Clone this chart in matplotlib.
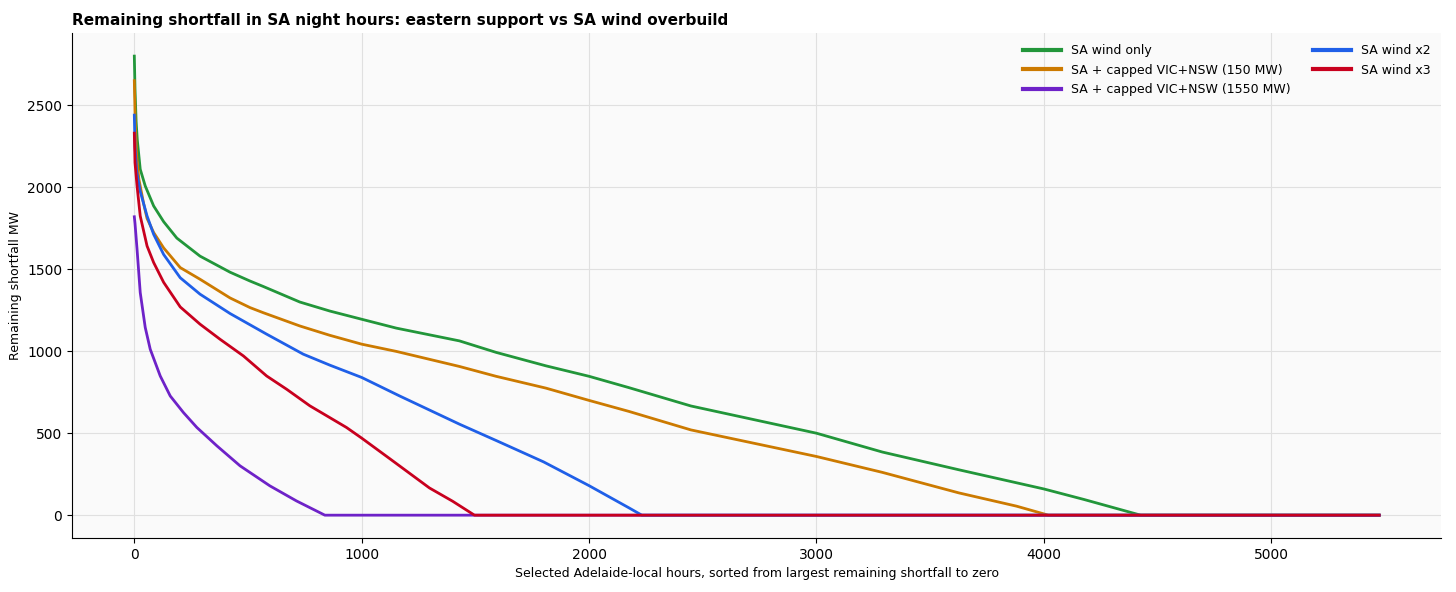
import matplotlib
matplotlib.use("Agg")
import matplotlib.pyplot as plt

# hours (sorted) and remaining shortfall MW
hours_max = 5475

wind_only_x = [0, 3, 8, 13, 26, 48, 85, 129, 187, 289, 421, 509, 567, 728, 860, 1000, 1152,
               1430, 1591, 1810, 2000, 2175, 2448, 3000, 3290, 3626, 4000, 4176, 4426, hours_max]
wind_only_y = [2800, 2600, 2400, 2290, 2110, 2008, 1886, 1790, 1690, 1580, 1482, 1428, 1395,
               1300, 1245, 1195, 1141, 1063, 993, 911, 847, 778, 666, 500, 385, 277, 160, 96,
               0, 0]

cap150_x = [0, 4, 10, 20, 41, 56, 85, 129, 202, 289, 421, 509, 567, 728, 860, 1000, 1152,
            1430, 1591, 1810, 2000, 2175, 2448, 3000, 3290, 3626, 3880, 4020, hours_max]
cap150_y = [2650, 2400, 2200, 2050, 1900, 1810, 1724, 1630, 1510, 1439, 1325, 1266, 1235,
            1154, 1097, 1043, 999, 907, 847, 775, 700, 633, 520, 358, 261, 136, 55, 0, 0]

cap1550_x = [0, 3, 12, 26, 48, 70, 114, 158, 216, 275, 363, 465, 596, 713, 838, hours_max]
cap1550_y = [1820, 1780, 1622, 1358, 1145, 1012, 849, 727, 626, 535, 423, 301, 179, 87, 0, 0]

wind_x2_x = [0, 3, 10, 26, 56, 85, 129, 202, 289, 421, 582, 743, 860, 1000, 1167, 1430, 1600,
             1800, 2000, 2175, 2232, hours_max]
wind_x2_y = [2440, 2250, 2100, 1975, 1825, 1713, 1590, 1448, 1348, 1230, 1104, 982, 915, 840,
             727, 555, 450, 325, 180, 45, 0, 0]

wind_x3_x = [0, 3, 12, 26, 56, 85, 129, 202, 289, 377, 480, 582, 670, 772, 933, 1000, 1123,
             1298, 1400, 1496, hours_max]
wind_x3_y = [2330, 2150, 2008, 1825, 1642, 1541, 1420, 1270, 1165, 1073, 971, 849, 768, 667,
             535, 470, 345, 166, 85, 0, 0]

series = [
    ("SA wind only", wind_only_x, wind_only_y, "#22963a"),
    ("SA + capped VIC+NSW (150 MW)", cap150_x, cap150_y, "#cc7a00"),
    ("SA + capped VIC+NSW (1550 MW)", cap1550_x, cap1550_y, "#6e22c8"),
    ("SA wind x2", wind_x2_x, wind_x2_y, "#1f5fe8"),
    ("SA wind x3", wind_x3_x, wind_x3_y, "#c8001e"),
]

fig = plt.figure(figsize=(14.56, 5.92), dpi=100)
ax = fig.add_axes([0.0495, 0.091, 0.9405, 0.853])
ax.set_facecolor("#fafafa")

for label, xs, ys, color in series:
    ax.plot(xs, ys, color=color, lw=2, label=label)

ax.set_title("Remaining shortfall in SA night hours: eastern support vs SA wind overbuild",
             loc="left", fontweight="bold", fontsize=11)
ax.set_xlabel("Selected Adelaide-local hours, sorted from largest remaining shortfall to zero",
              fontsize=9)
ax.set_ylabel("Remaining shortfall MW", fontsize=9)
ax.grid(True, color="#e0e0e0", lw=0.8)
ax.set_axisbelow(True)
for side in ("top", "right"):
    ax.spines[side].set_visible(False)
leg = ax.legend(frameon=False, ncol=2, loc="upper right", fontsize=9,
                handlelength=3, columnspacing=1.8)
for line in leg.get_lines():
    line.set_linewidth(3)

fig.savefig("out.png", dpi=100)
